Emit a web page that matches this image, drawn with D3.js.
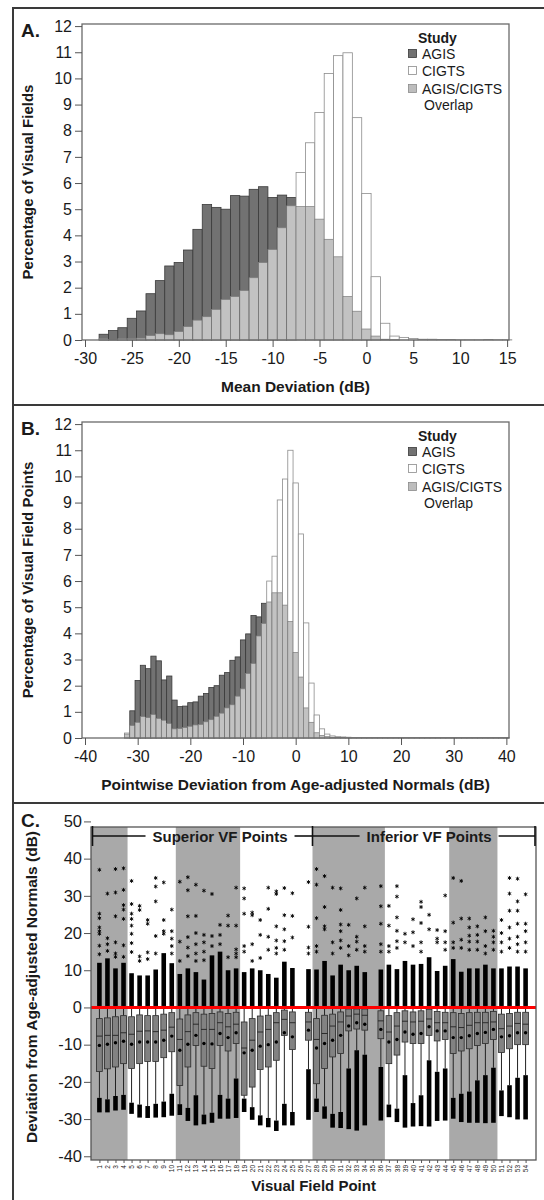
<!DOCTYPE html>
<html lang="en">
<head>
<meta charset="UTF-8">
<title>AGIS / CIGTS visual field deviations</title>
<script src="https://d3js.org/d3.v7.min.js"></script>
<style>
  body { margin: 0; background: #fff; }
  svg text { font-family: Arial, "Liberation Sans", sans-serif; fill: #1a1a1a; }
</style>
</head>
<body>
<svg id="chart" width="544" height="1200"></svg>
<script>
// ---------- panel A: mean deviation, 1 dB bins (% of visual fields)
const mdBins = [-28,-27,-26,-25,-24,-23,-22,-21,-20,-19,-18,-17,-16,-15,-14,-13,-12,-11,-10,-9,-8,-7,-6,-5,-4,-3,-2,-1,
                0,1,2,3,4,5,6,7,8,9,10,11,12,13,14,15];
const mdAgis = [0.22,0.36,0.47,0.83,1.11,1.77,2.27,2.83,2.96,3.44,4.23,5.18,5.07,5.00,5.52,5.50,5.76,5.86,5.45,5.54,5.45,5.10,5.10,4.62,3.85,3.18,1.66,1.10,
                0.42,0.15,0.03,0.01,0,0,0,0,0,0,0,0,0,0,0,0];
const mdCigts = [0.05,0.02,0.05,0.05,0.07,0.17,0.24,0.20,0.32,0.51,0.76,0.89,1.17,1.55,1.66,1.89,2.38,2.96,3.46,4.29,5.13,6.40,7.54,8.70,10.19,10.87,10.98,8.50,
                 5.60,2.42,0.64,0.15,0.10,0.06,0.03,0.03,0.02,0.02,0.01,0.01,0.01,0.02,0.01,0.01];
const mdTicks = [-30,-25,-20,-15,-10,-5,0,5,10,15];

// ---------- panel B: pointwise deviation, 1 dB bins (% of visual field points)
const pwBins = [-32,-31,-30,-29,-28,-27,-26,-25,-24,-23,-22,-21,-20,-19,-18,-17,-16,-15,-14,-13,-12,-11,-10,-9,-8,-7,-6,-5,-4,-3,-2,-1,
                0,1,2,3,4,5,6,7,8,9,10,11,12,13,14,15,16,17,18,19,20,21,22,23,24,25,26,27,28,29,30,31,32,33,34,35,36,37,38,39,40];
const pwAgis = [0.15,1.04,2.20,2.78,2.65,3.13,2.95,2.22,2.37,1.45,1.20,1.22,1.35,1.38,1.60,1.70,1.93,2.00,2.40,2.50,2.97,3.10,3.75,3.98,4.68,4.63,5.15,5.20,5.55,5.55,5.08,4.45,
                3.27,2.33,1.15,0.60,0.20,0.10,0.05,0.03,0.02,0.02,0.01,0.01,0.01,0.01,0.01,0.01,0.01,0.01,0.01,0.01,0.01,0.01,0.01,0.01,0.01,0.01,0.01,0.01,0.01,0.01,0.01,0.01,0.01,0.01,0.01,0.01,0.01,0.01,0.01,0.01,0.01];
const pwCigts = [0.19,0.48,0.60,0.82,0.78,0.90,0.75,0.68,0.56,0.35,0.36,0.40,0.45,0.50,0.52,0.62,0.70,0.83,0.95,1.15,1.27,1.60,1.88,2.47,2.85,3.90,4.38,6.00,6.95,9.10,9.90,11.00,
                 9.75,7.80,4.40,2.10,0.88,0.35,0.15,0.08,0.05,0.04,0.03,0.02,0.02,0.02,0.02,0.02,0.02,0.02,0.02,0.02,0.02,0.02,0.02,0.02,0.02,0.02,0.02,0.02,0.02,0.02,0.02,0.02,0.02,0.02,0.02,0.02,0.02,0.02,0.02,0.02,0.02];
const pwTicks = [-40,-30,-20,-10,0,10,20,30,40];
const pctTicks = [0,1,2,3,4,5,6,7,8,9,10,11,12];

// ---------- panel C: box plots per visual field point (dB); 26 and 35 are blind-spot points
const vfPoint = [1,2,3,4,5,6,7,8,9,10,11,12,13,14,15,16,17,18,19,20,21,22,23,24,25,26,27,
                 28,29,30,31,32,33,34,35,36,37,38,39,40,41,42,43,44,45,46,47,48,49,50,51,52,53,54];
const vfQ3 = [-3.0,-2.8,-2.5,-2.2,-2.5,-2.0,-2.2,-2.2,-1.8,-1.4,-3.1,-2.0,-1.4,-1.8,-1.6,-1.2,-1.6,-1.3,-3.9,-3.0,-2.3,-2.1,-1.4,-0.7,-1.2,null,-1.3,
              -3.0,-2.1,-1.8,-1.2,-0.4,-0.4,-0.4,null,-0.9,-2.2,-1.4,-0.9,-1.2,-0.9,-0.5,-1.1,-1.3,-1.4,-1.6,-1.4,-1.3,-1.3,-1.1,-1.8,-1.6,-1.3,-1.3];
const vfMedian = [-7.7,-7.5,-7.5,-6.8,-7.2,-6.4,-6.3,-6.5,-6.1,-5.3,-8.6,-6.5,-4.5,-5.9,-5.9,-4.1,-5.2,-4.5,-10.9,-8.8,-6.6,-5.9,-4.1,-3.2,-4.1,null,-3.9,
                  -8.6,-7.0,-5.0,-3.9,-2.3,-1.8,-2.1,null,-3.6,-6.6,-5.0,-3.7,-3.9,-3.7,-3.1,-4.1,-4.1,-5.2,-5.4,-4.8,-4.1,-4.1,-3.9,-5.7,-5.0,-4.3,-4.5];
const vfQ1 = [-17.2,-16.5,-16.0,-15.1,-16.4,-15.1,-14.5,-14.5,-13.5,-11.9,-21.0,-16.0,-10.2,-15.8,-16.4,-10.2,-11.7,-9.7,-23.6,-21.4,-16.7,-16.0,-14.2,-7.5,-11.3,null,-8.8,
              -20.5,-16.4,-13.3,-12.4,-6.3,-5.8,-6.1,null,-8.4,-15.1,-12.8,-9.3,-9.7,-9.7,-7.5,-9.0,-8.6,-12.4,-11.7,-11.1,-10.2,-9.7,-8.6,-12.1,-11.1,-10.0,-10.0];
const vfMean = [-10.2,-9.9,-9.5,-9.1,-9.9,-9.3,-9.3,-9.3,-8.8,-7.7,-11.5,-9.9,-7.5,-9.7,-9.8,-7.0,-8.1,-6.8,-12.2,-11.5,-10.4,-10.0,-9.3,-6.8,-7.9,null,-6.1,
                -10.9,-9.7,-8.8,-7.5,-5.0,-4.1,-4.5,null,-5.9,-9.3,-8.6,-6.6,-7.2,-7.0,-5.2,-6.3,-6.3,-8.1,-8.1,-7.6,-7.0,-6.7,-5.9,-7.9,-7.6,-6.8,-6.8];
// dense runs of low outliers (top and bottom of the black band)
const vfLowOutTop = [-24.3,-24.7,-23.8,-23.5,-25.6,-26.1,-26.5,-25.9,-25.3,-23.2,-26.0,-27.0,-23.6,-28.8,-28.3,-23.5,-24.5,-19.1,-24.5,-26.8,-29.0,-29.7,-30.4,-25.9,-28.1,null,-16.6,
                     -24.5,-26.6,-28.6,-28.1,-16.4,-11.5,-12.7,null,-16.0,-26.1,-27.2,-18.2,-25.7,-23.6,-14.2,-17.3,-16.4,-24.3,-23.2,-22.6,-19.6,-18.2,-16.2,-22.3,-20.9,-18.9,-18.2];
const vfLowOutBottom = [-28.2,-28.2,-27.7,-27.5,-28.6,-29.6,-29.7,-29.6,-29.5,-29.1,-28.9,-30.5,-31.7,-31.4,-31.0,-29.9,-29.9,-29.7,-28.1,-30.2,-31.7,-32.2,-33.2,-31.7,-31.7,null,-30.2,
                        -28.1,-29.9,-32.3,-32.4,-32.7,-33.1,-31.7,null,-30.4,-29.5,-30.8,-32.3,-32.0,-31.9,-32.0,-30.5,-30.4,-29.9,-30.8,-31.0,-31.0,-31.1,-31.0,-29.2,-29.5,-30.1,-30.1];
// dense run of high outliers, from 0 up to this value
const vfHighOutTop = [12,13.2,10.5,12,9.2,8.6,8.6,10.2,14.6,11.9,9.0,10.5,9.5,7.5,14,15,10,10.5,9.5,10.5,10,9,8,12.3,10.6,null,10.3,
                      10.2,12.5,8.6,11.5,10,11.2,9.5,null,10.2,11.5,10.3,12.5,11.5,11.7,13.5,9.8,11.2,13,9.6,10.5,10.5,11.5,10.5,10.5,11,11,10.5];
// scattered high outliers
const vfSparse = [
  [37,25.2,24,21.5,20.5,19.8,16.6,14.3],[30.6,18.6,17,15.2],[37.2,30.9,24.5,17.5,14.5,13.6],[37.4,31.6,27.5,26.3,23.8,16.7,13.6],
  [34,27.8,25.2,23.8,22,19.8,17.3,14.9],[27.3,26.2,13.7,12.5],[23.5,22.5,14.8,13],[34.8,32.5,28.5,19.2,14.5],[33.6,23.5,20.5,19.8],
  [26.3,20.5,18.5,16.5,14.5],[33.8,17.7,12.5],[35,31.5,24.5,18.9,16.1,13.8],[33,24.6,20,17,14.5,12.5],[31.4,19.5,17.5,15,12.7],
  [30.5,19.2,16.5],[22.2,19.5,17],[24.7,22,13.5],[32.2,22,15.6,14.5,13.5],[32,29.3,25.2,16.5,15],[25.5,24.8,17,12.5],
  [23.5,19.5,13.3],[32.2,26.5,19,15.5],[31.2,30.5,21.8,18,16,14.5],[32.1,24.8,21,17.8,15.5],[30.7,24.6,18.8],[],
  [33.7,21.7,16.1,14.5],[37.2,33,24,16.5,15],[35.3,27,21.8,21],[32.2,17.5,14.5],[32,26.2,22.3,20.5,18,16],[22.2,16.5,14],
  [29.3,19,17.7,15.5],[32.2,21.8,16.5,15],[],[32.6,27.2,22.5,17,15],[27.3,22,16.5,15],[32.6,29.8,24.2,20.6,17.8,16],
  [19.8,17.5],[23.7,20.2,16.5],[28.4,27,22.7,17.5,15],[24.9,21],[20.8,18.5,17.5],[30.1,20.5,17.5,15.5],[34.8,22.8,17.5,16],
  [34,23.9,18.2,16],[23.9,21.5,19.3,17.7,15.5],[21.8,19.5,17.7,15.5],[24.2,20.5,16.5,14.5],[20.6,19,17.5,15.5],
  [23.5,20,17.5,15],[34.8,30.6,26,21.5,18.5,16],[34.6,28.5,26,22.5,19,17,15],[30.4,22.5,20.5,17.5,15]
];
// rows of the 24-2 grid, alternately shaded
const vfRows = [[1,4],[5,10],[11,18],[19,27],[28,36],[37,44],[45,50],[51,54]];
const devTicks = [-40,-30,-20,-10,0,10,20,30,40,50];

const AGIS_FILL = "#727272", AGIS_LINE = "#3a3a3a";
const OVER_FILL = "#c2c2c2", OVER_LINE = "#7c7c7c";
const CIGTS_LINE = "#8c8c8c";

const svg = d3.select("#chart");
const plain = d => String(d);   // hyphen minus, like the original

// outer frame and panel separators
svg.append("line").attr("x1", 13).attr("x2", 13).attr("y1", 8).attr("y2", 1200).attr("stroke", "#3a3a3a").attr("stroke-width", 2);
[8, 405, 803].forEach(yy => {
    svg.append("line").attr("x1", 12).attr("x2", 544).attr("y1", yy).attr("y2", yy)
        .attr("stroke", "#3a3a3a").attr("stroke-width", 2);
});

function styleAxis(sel, fontSize) {
    sel.select(".domain").remove();
    sel.selectAll(".tick line").attr("stroke", "#555");
    sel.selectAll(".tick text").attr("font-size", fontSize).attr("fill", "#1a1a1a")
        .attr("font-family", "Arial, 'Liberation Sans', sans-serif");
}

function drawHistogram(cfg) {
    const plotL = 82, plotR = 509, plotT = cfg.top, plotB = cfg.top + 316;
    const x = d3.scaleLinear().domain(cfg.xDomain).range([plotL, plotR]);
    const y = d3.scaleLinear().domain([0, 12.08]).range([plotB, plotT]);
    const g = svg.append("g");

    const rows = cfg.bins.map((b, i) => ({ b: b, a: cfg.agis[i], c: cfg.cigts[i] }));
    const bar = g.append("g").selectAll("g").data(rows).join("g");

    // taller of the two studies
    bar.append("rect")
        .attr("x", d => x(d.b - 0.5))
        .attr("width", d => x(d.b + 0.5) - x(d.b - 0.5))
        .attr("y", d => y(Math.max(d.a, d.c)))
        .attr("height", d => plotB - y(Math.max(d.a, d.c)))
        .attr("fill", d => d.a >= d.c ? AGIS_FILL : "#fff")
        .attr("stroke", d => d.a >= d.c ? AGIS_LINE : CIGTS_LINE)
        .attr("stroke-width", 0.8);
    // overlap part
    bar.filter(d => Math.min(d.a, d.c) > 0).append("rect")
        .attr("x", d => x(d.b - 0.5))
        .attr("width", d => x(d.b + 0.5) - x(d.b - 0.5))
        .attr("y", d => y(Math.min(d.a, d.c)))
        .attr("height", d => plotB - y(Math.min(d.a, d.c)))
        .attr("fill", OVER_FILL)
        .attr("stroke", OVER_LINE)
        .attr("stroke-width", 0.7);

    g.append("rect").attr("x", plotL).attr("y", plotT).attr("width", plotR - plotL).attr("height", plotB - plotT)
        .attr("fill", "none").attr("stroke", "#6a6a6a").attr("stroke-width", 1.3);

    g.append("g").attr("transform", `translate(${plotL},0)`)
        .call(d3.axisLeft(y).tickValues(pctTicks).tickSize(7).tickPadding(3).tickFormat(plain))
        .call(s => styleAxis(s, "16px"));
    g.append("g").attr("transform", `translate(0,${plotB})`)
        .call(d3.axisBottom(x).tickValues(cfg.xTicks).tickSize(7).tickPadding(6).tickFormat(plain))
        .call(s => styleAxis(s, "16px"));

    g.append("text").attr("x", 21).attr("y", plotT + 13).attr("font-size", "19px").attr("font-weight", "bold").text(cfg.label);
    g.append("text").attr("transform", `translate(33,${(plotT + plotB) / 2}) rotate(-90)`)
        .attr("text-anchor", "middle").attr("font-size", "15px").attr("font-weight", "bold").text(cfg.yTitle);
    g.append("text").attr("x", (plotL + plotR) / 2).attr("y", plotB + 52)
        .attr("text-anchor", "middle").attr("font-size", "15.5px").attr("font-weight", "bold").text(cfg.xTitle);

    // legend
    const lg = g.append("g").attr("transform", `translate(0,${plotT})`);
    lg.append("text").attr("x", 418).attr("y", 19).attr("font-size", "14px").attr("font-weight", "bold").text("Study");
    const items = [
        { name: "AGIS", fill: AGIS_FILL, line: AGIS_LINE, cy: 29.5 },
        { name: "CIGTS", fill: "#fff", line: CIGTS_LINE, cy: 46.5 },
        { name: "AGIS/CIGTS", fill: "#bdbdbd", line: "#8a8a8a", cy: 64.5 }
    ];
    items.forEach(it => {
        lg.append("rect").attr("x", 408.5).attr("y", it.cy - 4).attr("width", 8).attr("height", 8)
            .attr("fill", it.fill).attr("stroke", it.line).attr("stroke-width", 0.8);
        lg.append("text").attr("x", 422).attr("y", it.cy + 5.5).attr("font-size", "14px").text(it.name);
    });
    lg.append("text").attr("x", 424).attr("y", 86).attr("font-size", "14px").text("Overlap");
}

drawHistogram({ top: 24, bins: mdBins, agis: mdAgis, cigts: mdCigts, xDomain: [-30.32, 15.2], xTicks: mdTicks,
    label: "A.", yTitle: "Percentage of Visual Fields", xTitle: "Mean Deviation (dB)" });
drawHistogram({ top: 422, bins: pwBins, agis: pwAgis, cigts: pwCigts, xDomain: [-40.57, 40.5], xTicks: pwTicks,
    label: "B.", yTitle: "Percentage of Visual Field Points", xTitle: "Pointwise Deviation from Age-adjusted Normals (dB)" });

// ---------- panel C
(function () {
    const L = 91, R = 536, T = 827, B = 1160;
    const x = d3.scalePoint().domain(vfPoint).range([90, 535]).padding(1.17);
    const y = d3.scaleLinear().domain([-41, 48.5]).range([B, T]);
    const step = x.step();
    const g = svg.append("g");

    // shaded rows
    g.append("g").selectAll("rect").data(vfRows.filter((r, i) => i % 2 === 0)).join("rect")
        .attr("x", r => r[0] === 1 ? L : x(r[0]) - step / 2)
        .attr("width", r => x(r[1]) + step / 2 - (r[0] === 1 ? L : x(r[0]) - step / 2))
        .attr("y", T).attr("height", B - T)
        .attr("fill", "#a9a9a9");

    const boxes = vfPoint.map((p, i) => ({
        p: p, q3: vfQ3[i], med: vfMedian[i], q1: vfQ1[i], mean: vfMean[i],
        lo1: vfLowOutTop[i], lo2: vfLowOutBottom[i], hi: vfHighOutTop[i], sparse: vfSparse[i]
    })).filter(d => d.q3 !== null);

    const bw = 5.8, ow = 4.6;
    const bx = g.append("g").selectAll("g").data(boxes).join("g")
        .attr("transform", d => `translate(${x(d.p)},0)`);

    // whiskers
    bx.append("line").attr("x1", 0).attr("x2", 0).attr("y1", d => y(d.q1)).attr("y2", d => y(d.lo1))
        .attr("stroke", "#222").attr("stroke-width", 1);
    bx.append("line").attr("x1", 0).attr("x2", 0).attr("y1", d => y(d.q3)).attr("y2", d => y(0.5))
        .attr("stroke", "#222").attr("stroke-width", 1);
    // dense outlier runs
    bx.append("rect").attr("x", -ow / 2).attr("width", ow)
        .attr("y", d => y(d.lo1)).attr("height", d => y(d.lo2) - y(d.lo1)).attr("fill", "#000");
    bx.append("rect").attr("x", -ow / 2).attr("width", ow)
        .attr("y", d => y(d.hi)).attr("height", d => y(0.4) - y(d.hi)).attr("fill", "#000");
    // scattered outliers
    const star = d3.symbol().type(d3.symbolAsterisk || d3.symbolCross).size(11);
    bx.selectAll("path.out").data(d => d.sparse).join("path").attr("class", "out")
        .attr("transform", v => `translate(0,${y(v)})`)
        .attr("d", star).attr("fill", "#000").attr("stroke", "#000").attr("stroke-width", 0.9);
    // box, median, mean
    bx.append("rect").attr("x", -bw / 2).attr("width", bw)
        .attr("y", d => y(d.q3)).attr("height", d => y(d.q1) - y(d.q3))
        .attr("fill", "#828282").attr("stroke", "#2a2a2a").attr("stroke-width", 0.8);
    bx.append("line").attr("x1", -bw / 2).attr("x2", bw / 2).attr("y1", d => y(d.med)).attr("y2", d => y(d.med))
        .attr("stroke", "#222").attr("stroke-width", 0.9);
    bx.append("circle").attr("cx", 0).attr("cy", d => y(d.mean)).attr("r", 1.7).attr("fill", "#000");

    // zero reference
    g.append("line").attr("x1", L).attr("x2", R).attr("y1", y(0)).attr("y2", y(0))
        .attr("stroke", "#ff0000").attr("stroke-width", 3);

    g.append("rect").attr("x", L).attr("y", T).attr("width", R - L).attr("height", B - T)
        .attr("fill", "none").attr("stroke", "#555").attr("stroke-width", 1.3);

    // superior / inferior brackets
    const split = x(27) + step / 2;
    const by = 836;
    const br = g.append("g").attr("stroke", "#111").attr("stroke-width", 1.6);
    [L + 1.5, split, R - 1].forEach(xx => br.append("line").attr("x1", xx).attr("x2", xx).attr("y1", by - 10).attr("y2", by + 10));
    const labels = [
        { text: "Superior VF Points", cx: x(16), from: L + 1.5, to: split },
        { text: "Inferior VF Points", cx: x(42), from: split, to: R - 1 }
    ];
    labels.forEach(l => {
        const t = g.append("text").attr("x", l.cx).attr("y", by + 5.5).attr("text-anchor", "middle")
            .attr("font-size", "15px").attr("font-weight", "bold").text(l.text);
        const bb = t.node().getBBox();
        br.append("line").attr("x1", l.from).attr("x2", bb.x - 7).attr("y1", by).attr("y2", by);
        br.append("line").attr("x1", bb.x + bb.width + 7).attr("x2", l.to).attr("y1", by).attr("y2", by);
    });

    g.append("g").attr("transform", `translate(${L},0)`)
        .call(d3.axisLeft(y).tickValues(devTicks).tickSize(7).tickPadding(2).tickFormat(plain))
        .call(s => styleAxis(s, "16.5px"));
    const xa = g.append("g").attr("transform", `translate(0,${B})`)
        .call(d3.axisBottom(x).tickSize(3).tickFormat(plain))
        .call(s => styleAxis(s, "6.5px"));
    xa.selectAll(".tick text").attr("transform", "rotate(-90)").attr("text-anchor", "end")
        .attr("x", -5).attr("y", 0).attr("dy", "0.32em");

    g.append("text").attr("x", 21).attr("y", 827).attr("font-size", "19px").attr("font-weight", "bold").text("C.");
    g.append("text").attr("transform", `translate(37,987) rotate(-90)`)
        .attr("text-anchor", "middle").attr("font-size", "15.5px").attr("font-weight", "bold")
        .text("Deviation from Age-adjusted Normals (dB)");
    g.append("text").attr("x", (L + R) / 2).attr("y", 1191).attr("text-anchor", "middle")
        .attr("font-size", "15px").attr("font-weight", "bold").text("Visual Field Point");
})();
</script>
</body>
</html>
